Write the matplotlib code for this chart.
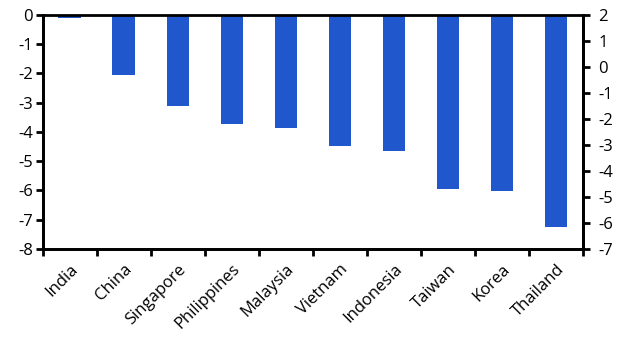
import matplotlib.pyplot as plt
import numpy as np

plt.rcParams['font.family'] = ['Open Sans', 'DejaVu Sans']

countries = ["India", "China", "Singapore", "Philippines", "Malaysia",
             "Vietnam", "Indonesia", "Taiwan", "Korea", "Thailand"]
values = [-0.1, -2.05, -3.1, -3.72, -3.86, -4.5, -4.66, -5.97, -6.02, -7.25]
left_ticks = list(range(0, -9, -1))
right_ticks = list(range(2, -8, -1))

fig, ax = plt.subplots(figsize=(6.29, 3.54), dpi=100)
fig.subplots_adjust(left=0.068, right=0.927, top=0.958, bottom=0.297)

x = np.arange(len(countries))
ax.bar(x, values, width=0.42, color="#2157cd", zorder=2)

ax.set_xlim(-0.5, len(countries) - 0.5)
ax.set_ylim(-8, 0)
ax.set_yticks(left_ticks)
ax.set_yticklabels([str(t) for t in left_ticks])
ax.set_xticks(np.arange(-0.5, len(countries), 1.0))
ax.set_xticklabels([])
ax.set_xticks(x, minor=True)
ax.set_xticklabels(countries, minor=True, rotation=45, ha="right",
                   rotation_mode="anchor")
ax.tick_params(axis="x", which="minor", length=0, pad=9, labelsize=12)
ax.tick_params(axis="x", which="major", length=5, width=2, direction="out")
ax.tick_params(axis="y", length=5, width=2, labelsize=12, pad=2)

ax2 = ax.twinx()
ax2.set_ylim(-7, 2)
ax2.set_yticks(right_ticks)
ax2.set_yticklabels([str(t) for t in right_ticks])
ax2.tick_params(axis="y", length=5, width=2, labelsize=12, pad=6)

for a in (ax, ax2):
    for s in a.spines.values():
        s.set_linewidth(2)
        s.set_color("black")
ax2.spines["top"].set_visible(False)

fig.savefig("out.png", dpi=100)
